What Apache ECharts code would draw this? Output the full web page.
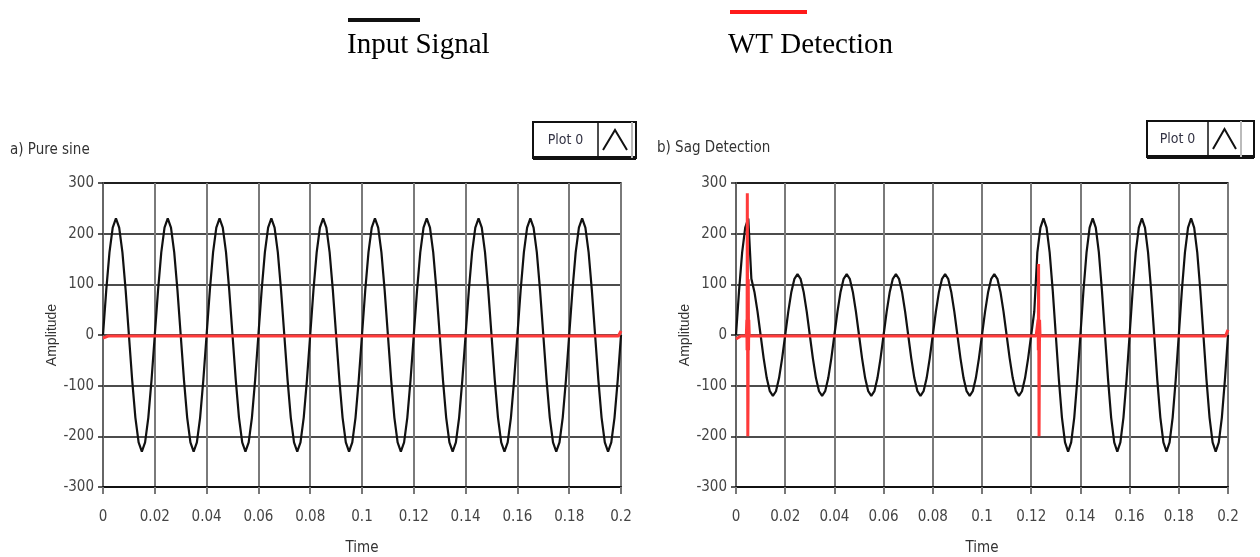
<!DOCTYPE html>
<html>
<head>
<meta charset="utf-8">
<script src="https://cdn.jsdelivr.net/npm/echarts@6/dist/echarts.min.js"></script>
<style>
html,body{margin:0;padding:0;background:#fff;}
#chart{width:1260px;height:557px;}
</style>
</head>
<body>
<div id="chart"></div>
<script>
// ---- data ----
const SAMPLE_DT = 0.00125; // sampling interval of the input signal (s)
const xTicks = [0, 0.02, 0.04, 0.06, 0.08, 0.1, 0.12, 0.14, 0.16, 0.18, 0.2];
const yTicks = [-300, -200, -100, 0, 100, 200, 300];

const inputPure = [
  0, 88, 163, 212, 230, 212, 163, 88, 0, -88, -163, -212, -230, -212, -163, -88,
  0, 88, 163, 212, 230, 212, 163, 88, 0, -88, -163, -212, -230, -212, -163, -88,
  0, 88, 163, 212, 230, 212, 163, 88, 0, -88, -163, -212, -230, -212, -163, -88,
  0, 88, 163, 212, 230, 212, 163, 88, 0, -88, -163, -212, -230, -212, -163, -88,
  0, 88, 163, 212, 230, 212, 163, 88, 0, -88, -163, -212, -230, -212, -163, -88,
  0, 88, 163, 212, 230, 212, 163, 88, 0, -88, -163, -212, -230, -212, -163, -88,
  0, 88, 163, 212, 230, 212, 163, 88, 0, -88, -163, -212, -230, -212, -163, -88,
  0, 88, 163, 212, 230, 212, 163, 88, 0, -88, -163, -212, -230, -212, -163, -88,
  0, 88, 163, 212, 230, 212, 163, 88, 0, -88, -163, -212, -230, -212, -163, -88,
  0, 88, 163, 212, 230, 212, 163, 88, 0, -88, -163, -212, -230, -212, -163, -88,
  0
];
const inputSag = [
  0, 88, 163, 212, 230, 111, 85, 46, 0, -46, -85, -111, -120, -111, -85, -46,
  0, 46, 85, 111, 120, 111, 85, 46, 0, -46, -85, -111, -120, -111, -85, -46,
  0, 46, 85, 111, 120, 111, 85, 46, 0, -46, -85, -111, -120, -111, -85, -46,
  0, 46, 85, 111, 120, 111, 85, 46, 0, -46, -85, -111, -120, -111, -85, -46,
  0, 46, 85, 111, 120, 111, 85, 46, 0, -46, -85, -111, -120, -111, -85, -46,
  0, 46, 85, 111, 120, 111, 85, 46, 0, -46, -85, -111, -120, -111, -85, -46,
  0, 46, 163, 212, 230, 212, 163, 88, 0, -88, -163, -212, -230, -212, -163, -88,
  0, 88, 163, 212, 230, 212, 163, 88, 0, -88, -163, -212, -230, -212, -163, -88,
  0, 88, 163, 212, 230, 212, 163, 88, 0, -88, -163, -212, -230, -212, -163, -88,
  0, 88, 163, 212, 230, 212, 163, 88, 0, -88, -163, -212, -230, -212, -163, -88,
  0
];

const detectPureTimes  = [0, 0.002, 0.199, 0.2];
const detectPureValues = [-6, -2, -2, 8];

const detectSagTimes  = [0, 0.002, 0.0042, 0.0044, 0.0045, 0.0046, 0.0048, 0.0049, 0.005, 0.0051, 0.0052, 0.0054,
                         0.122, 0.1228, 0.1229, 0.123, 0.1232, 0.1234, 0.1236, 0.199, 0.2];
const detectSagValues = [-8, -2, -2, 30, -30, 280, -200, -130, 110, -30, 30, -2,
                         -2, 30, -30, 140, -200, 30, -2, -2, 10];

// ---- build ----
function pairsFromSamples(vals){ return vals.map((v,i)=>[+(i*SAMPLE_DT).toFixed(6), v]); }
function pairs(ts, vs){ return ts.map((t,i)=>[t, vs[i]]); }

const labelFont = '"Liberation Sans Narrow","DejaVu Sans Condensed","Roboto Condensed",sans-serif';

function xAxisCfg(gi){
  return {
    gridIndex: gi, type:'value', min:0, max:0.2, interval:0.02,
    name:'Time', nameLocation:'middle', nameGap:54,
    nameTextStyle:{fontFamily:labelFont, fontSize:15, color:'#333'},
    axisLine:{show:true, onZero:false, lineStyle:{color:'#111', width:2}},
    axisTick:{show:true, length:7, lineStyle:{color:'#777', width:2}},
    axisLabel:{fontFamily:labelFont, fontSize:15, color:'#444', margin:23,
      formatter:v=>String(parseFloat(v.toFixed(2)))},
    splitLine:{show:true, lineStyle:{color:'#7a7a7a', width:2}}
  };
}
function yAxisCfg(gi){
  return {
    gridIndex: gi, type:'value', min:-300, max:300, interval:100,
    name:'Amplitude', nameLocation:'middle', nameGap:37, nameRotate:90,
    nameTextStyle:{fontFamily:'"Liberation Sans","Arial",sans-serif', fontSize:14, color:'#333'},
    axisLine:{show:true, onZero:false, lineStyle:{color:'#666', width:2}},
    axisTick:{show:true, length:5, lineStyle:{color:'#222', width:1.5}},
    axisLabel:{fontFamily:labelFont, fontSize:15, color:'#444', margin:9},
    splitLine:{show:true, lineStyle:{color:'#111', width:1.5}}
  };
}

function plotBox(x, y, w, h, divX, iconW){
  return [
    {type:'rect', shape:{x:x, y:y, width:w, height:h}, style:{fill:'#fff', stroke:'#111', lineWidth:2}},
    {type:'line', shape:{x1:x, y1:y+h, x2:x+w, y2:y+h}, style:{stroke:'#111', lineWidth:4}},
    {type:'line', shape:{x1:divX, y1:y, x2:divX, y2:y+h}, style:{stroke:'#111', lineWidth:1.5}},
    {type:'text', style:{text:'Plot 0', x:(x+divX)/2, y:y+h/2, align:'center', verticalAlign:'middle',
      font:'14px ' + labelFont, fill:'#334'}},
    {type:'polyline', shape:{points:[[divX+5, y+h-8],[divX+iconW/2, y+8],[divX+iconW-5, y+h-8]]},
      style:{stroke:'#111', lineWidth:2, fill:null}},
    {type:'line', shape:{x1:divX+iconW, y1:y, x2:divX+iconW, y2:y+h}, style:{stroke:'#bbb', lineWidth:2}}
  ];
}

const chart = echarts.init(document.getElementById('chart'), null, {renderer:'canvas'});
chart.setOption({
  animation:false,
  backgroundColor:'#fff',
  grid:[
    {left:103, right:639, top:183, bottom:70, containLabel:false, outerBoundsMode:'none',
      show:true, borderColor:'#111', borderWidth:1.5, backgroundColor:'transparent'},
    {left:736, right:32, top:183, bottom:70, containLabel:false, outerBoundsMode:'none',
      show:true, borderColor:'#111', borderWidth:1.5, backgroundColor:'transparent'}
  ],
  xAxis:[xAxisCfg(0), xAxisCfg(1)],
  yAxis:[yAxisCfg(0), yAxisCfg(1)],
  series:[
    {type:'line', xAxisIndex:0, yAxisIndex:0, data:pairsFromSamples(inputPure), showSymbol:false,
      lineStyle:{color:'#111', width:2.2}, z:3},
    {type:'line', xAxisIndex:0, yAxisIndex:0, data:pairs(detectPureTimes, detectPureValues), showSymbol:false,
      lineStyle:{color:'#ff3a3a', width:3}, z:4},
    {type:'line', xAxisIndex:1, yAxisIndex:1, data:pairsFromSamples(inputSag), showSymbol:false,
      lineStyle:{color:'#111', width:2.2}, z:3},
    {type:'line', xAxisIndex:1, yAxisIndex:1, data:pairs(detectSagTimes, detectSagValues), showSymbol:false,
      lineStyle:{color:'#ff3a3a', width:3}, z:4}
  ],
  graphic:[
    {type:'line', shape:{x1:348, y1:20, x2:420, y2:20}, style:{stroke:'#111', lineWidth:4}},
    {type:'text', style:{text:'Input Signal', x:347, y:45, verticalAlign:'middle',
      font:'29px "Liberation Serif","Times New Roman",serif', fill:'#000'}},
    {type:'line', shape:{x1:730, y1:12, x2:807, y2:12}, style:{stroke:'#ff1a1a', lineWidth:4}},
    {type:'text', style:{text:'WT Detection', x:728, y:45, verticalAlign:'middle',
      font:'29px "Liberation Serif","Times New Roman",serif', fill:'#000'}},
    {type:'text', style:{text:'a) Pure sine', x:10, y:150, verticalAlign:'middle',
      font:'15px ' + labelFont, fill:'#333'}},
    {type:'text', style:{text:'b) Sag Detection', x:657, y:148, verticalAlign:'middle',
      font:'15px ' + labelFont, fill:'#333'}}
  ].concat(plotBox(533, 122, 103, 36, 598, 34))
   .concat(plotBox(1147, 121, 107, 36, 1208, 33))
});
</script>
</body>
</html>
